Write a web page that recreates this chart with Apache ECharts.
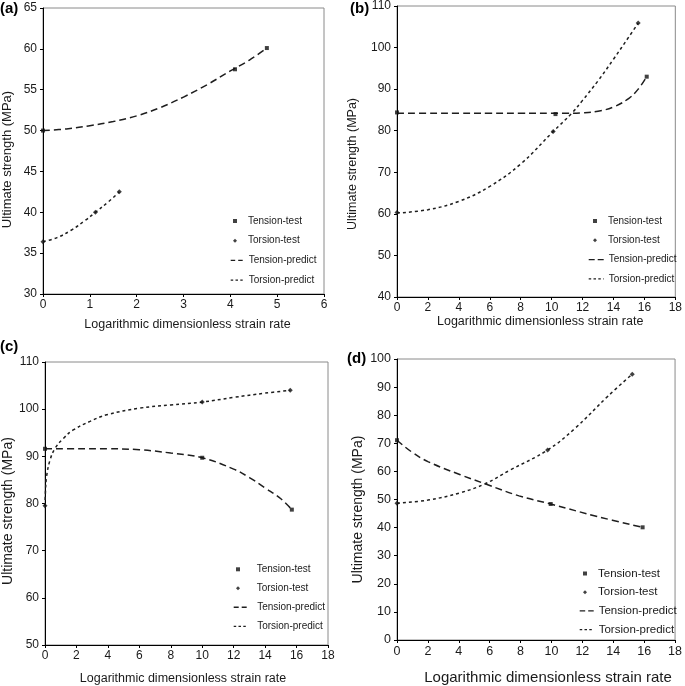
<!DOCTYPE html>
<html>
<head>
<meta charset="utf-8">
<script src="https://cdn.jsdelivr.net/npm/echarts@6/dist/echarts.min.js"></script>
<style>
html,body{margin:0;padding:0;background:#fff;}
#chart{width:685px;height:686px;}
</style>
</head>
<body>
<div id="chart"></div>
<script>
const panelLabels = ['(a)', '(b)', '(c)', '(d)'];
const seriesNames = ['Tension-test', 'Torsion-test', 'Tension-predict', 'Torsion-predict'];
const xTitle = 'Logarithmic dimensionless strain rate';
const yTitle = 'Ultimate strength (MPa)';

// x/y axis ranges per panel
const xMax = [6, 18, 18, 18];
const xStep = [1, 2, 2, 2];
const yMin = [30, 40, 50, 0];
const yMax = [65, 110, 110, 100];
const yStep = [5, 10, 10, 10];

// Panel (a)
const aTensionTest = [[0, 50.0], [4.1, 57.5], [4.78, 60.1]];
const aTorsionTest = [[0, 36.4], [1.12, 40.0], [1.63, 42.5]];
const aTensionPredict = [[0, 50.0], [0.5, 50.2], [1, 50.6], [1.5, 51.1], [2, 51.8], [2.5, 52.8], [3, 54.1], [3.5, 55.6], [4, 57.3], [4.4, 58.6], [4.78, 60.1]];
const aTorsionPredict = [[0, 36.4], [0.3, 36.9], [0.6, 37.8], [0.9, 39.0], [1.12, 40.0], [1.4, 41.3], [1.63, 42.5]];

// Panel (b)
const bTensionTest = [[0, 84.4], [10.25, 84.0], [16.15, 93.0]];
const bTorsionTest = [[0, 60.3], [10.1, 79.8], [15.6, 105.9]];
const bTensionPredict = [[0, 84.2], [2, 84.2], [4, 84.2], [6, 84.2], [8, 84.2], [10, 84.2], [11, 84.2], [12, 84.3], [13, 84.7], [14, 85.7], [15, 87.8], [15.6, 90.0], [16.15, 93.0]];
const bTorsionPredict = [[0, 60.2], [2, 61.0], [4, 63.0], [6, 66.6], [8, 72.0], [10.1, 79.8], [11.3, 84.2], [12, 87.3], [13, 92.0], [14, 97.2], [15, 102.6], [15.6, 105.9]];

// Panel (c)
const cTensionTest = [[0, 91.6], [10, 89.7], [15.7, 78.7]];
const cTorsionTest = [[0, 79.5], [10, 101.5], [15.6, 104.0]];
const cTensionPredict = [[0, 91.6], [2, 91.6], [4, 91.6], [6, 91.4], [8, 90.7], [10, 89.7], [12, 87.3], [13, 85.5], [14, 83.3], [15, 81.0], [15.7, 78.7]];
const cTorsionPredict = [[0, 79.5], [0.03, 82.5], [0.1, 85.7], [0.32, 89.2], [0.64, 91.7], [1.17, 93.8], [1.8, 95.6], [2.86, 97.4], [3.92, 98.8], [6, 100.2], [8, 100.9], [10, 101.5], [12, 102.5], [14, 103.4], [15.6, 104.0]];

// Panel (d)
const dTensionTest = [[0, 71.1], [9.95, 48.4], [15.9, 40.1]];
const dTorsionTest = [[0, 48.7], [9.75, 67.6], [15.23, 94.6]];
const dTensionPredict = [[0, 71.1], [0.93, 67.0], [2, 63.5], [4.1, 58.8], [5.7, 55.6], [7.9, 51.3], [9.95, 48.4], [13, 43.9], [15.9, 40.1]];
const dTorsionPredict = [[0, 48.7], [2, 49.8], [4.1, 52.4], [5.7, 55.6], [7.3, 60.4], [9.75, 67.6], [11.5, 75.2], [13.66, 86.8], [15.23, 94.6]];

const panelData = [
  [aTensionTest, aTorsionTest, aTensionPredict, aTorsionPredict],
  [bTensionTest, bTorsionTest, bTensionPredict, bTorsionPredict],
  [cTensionTest, cTorsionTest, cTensionPredict, cTorsionPredict],
  [dTensionTest, dTorsionTest, dTensionPredict, dTorsionPredict]
];

// layout
const grids = [
  {left: 41, top: 8, width: 283, height: 286},
  {left: 397, top: 5, width: 283, height: 292},
  {left: 45, top: 362, width: 283, height: 283},
  {left: 397, top: 359, width: 283, height: 286}
];
const tickFont = [12, 12, 12, 12.5];
const xNameFont = [12.5, 12.5, 12.5, 15];
const yNameFont = [13, 12.5, 14, 14];
const legendFont = [10, 10, 10, 11.5];
const legendLine = [12, 12, 12, 14];
const legendStep = [19.7, 19.3, 19, 18.7];
const legendTop = [215, 215, 563.3, 566.5];
const xNameGap = [24, 12, 27, 30];
const yNameGap = [29, 37.5, 28, 32];
const xNamePad = [[0, 0, 0, 8], [0, 0, 0, 8], [0, 7, 0, 0], [0, 0, 0, 24]];
const yNamePad = [[0, 17, 0, 0], [0, 25, 0, 0], [0, 15, 0, 0], [0, 20, 0, 0]];
// test-marker legend: left, text padding; predict legend: left, icon width, text padding
const testLegend = [[233, 6], [593, 6], [236, 11.7], [583, 6]];
const predLegend = [[230, 12, 1], [588, 15, 0], [233, 13, 5.5], [579, 14, 0]];
const titlePos = [
  {left: 0, top: 1},
  {left: 350, top: 1},
  {left: 0, top: 339},
  {left: 347, top: 351}
];

const FONT = 'Liberation Sans, Arial, sans-serif';
const ink = '#1a1a1a';
const lineInk = '#1e1e1e';

const option = {
  animation: false,
  backgroundColor: '#fff',
  title: [], grid: [], xAxis: [], yAxis: [], legend: [], series: []
};

for (let i = 0; i < 4; i++) {
  option.title.push({
    text: panelLabels[i], left: titlePos[i].left, top: titlePos[i].top, padding: 0,
    textStyle: {fontFamily: FONT, fontWeight: 'bold', fontSize: 15, color: '#000'}
  });
  option.grid.push(Object.assign({show: true, borderColor: '#8a8a8a', borderWidth: 1, backgroundColor: '#fff'}, grids[i]));
  option.xAxis.push({
    type: 'value', gridIndex: i, min: 0, max: xMax[i], interval: xStep[i],
    name: xTitle, nameLocation: 'middle', nameGap: xNameGap[i],
    nameTextStyle: {fontFamily: FONT, fontSize: xNameFont[i], color: ink, padding: xNamePad[i]},
    axisLine: {show: true, lineStyle: {color: '#000', width: 1}},
    axisTick: {show: true, length: 3, lineStyle: {color: '#000'}},
    axisLabel: {fontFamily: FONT, fontSize: tickFont[i], color: ink, margin: 5},
    splitLine: {show: false}
  });
  option.yAxis.push({
    type: 'value', gridIndex: i, min: yMin[i], max: yMax[i], interval: yStep[i],
    name: yTitle, nameLocation: 'middle', nameGap: yNameGap[i],
    nameTextStyle: {fontFamily: FONT, fontSize: yNameFont[i], color: ink, padding: yNamePad[i]},
    axisLine: {show: true, lineStyle: {color: '#000', width: 1}},
    axisTick: {show: true, length: 3, lineStyle: {color: '#000'}},
    axisLabel: {fontFamily: FONT, fontSize: tickFont[i], color: ink, margin: 6},
    splitLine: {show: false}
  });
  const lh = legendLine[i];
  const gap = legendStep[i] - lh;
  const iw = predLegend[i][1];
  const longDash = (iw - 3) / 2;
  option.legend.push({
    orient: 'vertical', left: testLegend[i][0], top: legendTop[i], padding: 0,
    data: [seriesNames[0], seriesNames[1]], itemWidth: 4, itemHeight: 4, itemGap: gap,
    textStyle: {fontFamily: FONT, fontSize: legendFont[i], lineHeight: lh, color: ink, padding: [0, 0, 0, testLegend[i][1]]},
    selectedMode: false
  });
  option.legend.push({
    orient: 'vertical', left: predLegend[i][0], top: legendTop[i] + 2 * legendStep[i], padding: 0,
    data: [
      {name: seriesNames[2], lineStyle: {type: [longDash, 3], width: 1.4}},
      {name: seriesNames[3], lineStyle: {type: [2.5, 2.3], width: 1.2}}
    ],
    itemWidth: iw, itemHeight: 4, itemGap: gap,
    itemStyle: {opacity: 0},
    textStyle: {fontFamily: FONT, fontSize: legendFont[i], lineHeight: lh, color: ink, padding: [0, 0, 0, predLegend[i][2]]},
    selectedMode: false
  });
  const d = panelData[i];
  option.series.push({
    name: seriesNames[0], type: 'scatter', xAxisIndex: i, yAxisIndex: i,
    data: d[0], symbol: 'rect', symbolSize: 4, itemStyle: {color: '#111'}, z: 5
  });
  option.series.push({
    name: seriesNames[1], type: 'scatter', xAxisIndex: i, yAxisIndex: i,
    data: d[1], symbol: 'diamond', symbolSize: 5, itemStyle: {color: '#111'}, z: 5
  });
  option.series.push({
    name: seriesNames[2], type: 'line', xAxisIndex: i, yAxisIndex: i,
    data: d[2], smooth: 0.4, symbol: 'none', itemStyle: {color: lineInk},
    lineStyle: {color: lineInk, width: 1.5, type: [7, 4]}
  });
  option.series.push({
    name: seriesNames[3], type: 'line', xAxisIndex: i, yAxisIndex: i,
    data: d[3], smooth: 0.4, symbol: 'none', itemStyle: {color: lineInk},
    lineStyle: {color: lineInk, width: 1.5, type: [3, 3]}
  });
}

const chart = echarts.init(document.getElementById('chart'), null, {renderer: 'canvas'});
chart.setOption(option);
</script>
</body>
</html>
